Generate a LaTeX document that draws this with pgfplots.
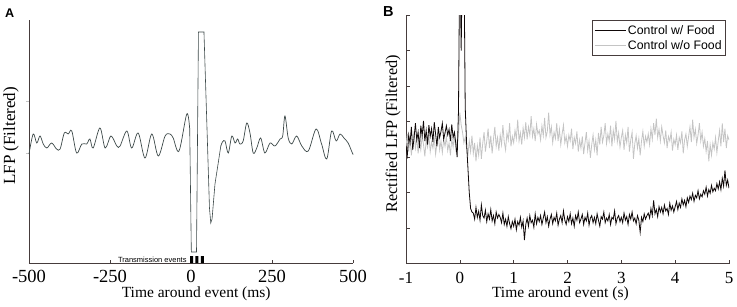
\documentclass[border=0pt]{standalone}
\usepackage{pgfplots}
\usepackage{pgfplotstable}
\pgfplotsset{compat=1.18}
\usepackage{fontspec}
\setmainfont{Liberation Serif}
\newfontfamily\arial{Liberation Sans}
\definecolor{axcol}{RGB}{70,60,60}
\definecolor{tracea}{RGB}{60,72,72}
\definecolor{lgray}{RGB}{196,196,196}
\definecolor{blk}{RGB}{15,8,8}

\pgfplotstableread{
t b g
-1.000 3.30 3.30
-0.975 3.05 3.65
-0.950 3.62 3.15
-0.925 3.40 3.50
-0.900 3.85 3.05
-0.875 3.20 3.40
-0.850 3.55 3.72
-0.825 3.95 3.25
-0.800 3.48 3.55
-0.775 3.70 3.10
-0.750 3.25 3.45
-0.725 3.88 3.20
-0.700 3.60 3.60
-0.675 4.02 3.35
-0.650 3.45 3.02
-0.625 3.75 3.48
-0.600 3.35 3.28
-0.575 3.90 3.62
-0.550 3.58 3.15
-0.525 3.80 3.42
-0.500 3.42 3.25
-0.475 3.98 3.55
-0.450 3.65 3.08
-0.425 3.30 3.38
-0.400 3.85 3.65
-0.375 3.55 3.20
-0.350 3.72 3.45
-0.325 3.95 3.12
-0.300 3.50 3.50
-0.275 3.68 3.30
-0.250 3.88 3.58
-0.225 3.62 3.18
-0.200 3.78 3.40
-0.175 3.45 3.05
-0.150 3.92 3.52
-0.125 3.55 3.28
-0.100 3.70 3.62
-0.075 3.38 3.22
-0.050 3.00 3.45
-0.025 4.30 3.60
0.000 9.00 4.25
0.025 6.00 3.90
0.050 9.00 3.70
0.075 9.00 3.40
0.100 4.40 3.55
0.125 3.40 3.25
0.150 2.70 3.05
0.175 2.00 3.45
0.200 1.55 3.15
0.225 1.45 3.60
0.250 1.42 3.10
0.275 1.25 3.40
0.300 1.58 2.88
0.325 1.30 3.32
0.350 1.47 3.05
0.375 1.22 3.55
0.400 1.65 2.95
0.425 1.35 3.38
0.450 1.28 3.70
0.475 1.50 3.15
0.500 1.18 3.45
0.525 1.40 3.80
0.550 1.25 3.25
0.575 1.52 3.60
0.600 1.20 3.10
0.625 1.35 3.50
0.650 1.12 3.85
0.675 1.45 3.30
0.700 1.28 3.55
0.725 1.38 3.18
0.750 1.30 3.62
0.775 1.15 3.35
0.800 1.42 3.90
0.825 1.10 3.42
0.850 1.25 3.20
0.875 1.05 3.68
0.900 1.32 3.48
0.925 1.12 3.95
0.950 0.98 3.30
0.975 1.18 3.58
1.000 1.05 3.40
1.025 1.25 3.75
1.050 0.95 3.52
1.075 1.18 4.05
1.100 1.08 3.45
1.125 1.30 3.68
1.150 1.02 3.35
1.175 1.20 3.82
1.200 0.66 3.55
1.225 1.10 3.98
1.250 1.28 3.50
1.275 1.05 3.85
1.300 1.35 3.62
1.325 1.15 4.15
1.350 1.22 3.58
1.375 1.02 3.80
1.400 1.40 3.45
1.425 1.12 3.92
1.450 1.30 3.65
1.475 1.18 3.75
1.500 1.35 3.48
1.525 1.10 3.88
1.550 1.28 3.60
1.575 1.45 4.10
1.600 1.15 3.55
1.625 1.32 3.72
1.650 1.05 4.25
1.675 1.25 3.62
1.700 1.38 3.85
1.725 1.12 3.40
1.750 1.30 3.70
1.775 1.20 3.52
1.800 1.42 3.95
1.825 1.08 3.45
1.850 1.25 3.78
1.875 1.35 3.35
1.900 1.15 3.65
1.925 1.48 3.90
1.950 1.22 3.40
1.975 1.10 3.58
2.000 1.32 3.30
2.025 1.18 3.62
2.050 1.40 3.45
2.075 1.12 3.80
2.100 1.28 3.22
2.125 1.05 3.55
2.150 1.35 3.38
2.175 1.22 3.72
2.200 1.45 3.15
2.225 1.15 3.48
2.250 1.25 3.25
2.275 1.38 3.58
2.300 1.10 3.08
2.325 1.30 3.40
2.350 1.20 3.70
2.375 1.42 3.18
2.400 1.08 3.45
2.425 1.28 2.98
2.450 1.35 3.35
2.475 1.15 3.62
2.500 1.30 3.20
2.525 1.12 3.48
2.550 1.40 3.05
2.575 1.22 3.68
2.600 1.05 3.35
2.625 1.32 3.85
2.650 1.25 3.42
2.675 1.45 3.60
2.700 1.15 3.95
2.725 1.28 3.38
2.750 1.20 3.65
2.775 1.38 3.45
2.800 1.10 3.88
2.825 1.30 3.30
2.850 1.25 3.75
2.875 1.48 3.50
2.900 1.12 4.02
2.925 1.28 3.42
2.950 1.35 3.68
2.975 1.18 3.28
3.000 1.30 3.55
3.025 1.15 3.75
3.050 1.42 3.20
3.075 1.22 3.62
3.100 1.32 3.40
3.125 1.10 3.85
3.150 1.38 3.15
3.175 1.25 3.48
3.200 1.45 3.70
3.225 1.20 2.95
3.250 1.28 3.38
3.275 1.12 3.60
3.300 1.35 3.25
3.325 1.22 3.52
3.350 0.88 3.05
3.375 1.30 3.45
3.400 1.18 3.72
3.425 1.40 3.30
3.450 1.25 3.58
3.475 1.35 3.42
3.500 1.42 3.65
3.525 1.28 3.35
3.550 1.55 3.80
3.575 1.35 3.50
3.600 1.78 3.95
3.625 1.40 3.62
3.650 1.52 4.08
3.675 1.32 3.55
3.700 1.60 3.78
3.725 1.45 3.45
3.750 1.58 3.85
3.775 1.40 3.60
3.800 1.65 3.40
3.825 1.48 3.75
3.850 1.55 3.25
3.875 1.38 3.58
3.900 1.70 3.45
3.925 1.50 3.70
3.950 1.62 3.18
3.975 1.45 3.50
4.000 1.60 3.35
4.025 1.75 3.62
4.050 1.52 3.20
4.075 1.70 3.55
4.100 1.58 3.40
4.125 1.82 3.72
4.150 1.65 3.10
4.175 1.78 3.48
4.200 1.60 3.65
4.225 1.85 3.30
4.250 1.72 3.58
4.275 1.90 3.85
4.300 1.80 3.42
4.325 1.98 4.05
4.350 1.75 3.55
4.375 1.92 3.78
4.400 1.85 3.38
4.425 2.05 3.62
4.450 1.82 3.95
4.475 1.95 3.45
4.500 1.88 3.70
4.525 2.05 3.30
4.550 1.95 3.52
4.575 2.15 3.15
4.600 1.90 3.45
4.625 2.08 2.88
4.650 1.98 3.35
4.675 2.20 3.05
4.700 2.02 3.40
4.725 2.12 3.22
4.750 2.05 3.55
4.775 2.25 3.12
4.800 2.10 3.45
4.825 2.30 3.75
4.850 2.08 3.30
4.875 2.40 3.95
4.900 2.18 3.42
4.925 2.62 3.80
4.950 2.20 3.25
4.975 2.35 3.60
5.000 2.12 3.48
}\dataB

\begin{document}
\begin{tikzpicture}[x=1pt,y=1pt]
\useasboundingbox (0,0) rectangle (737,306);
\node[anchor=base west, inner sep=0, font=\arial\bfseries\fontsize{12.6}{12.6}\selectfont] at (5,288.7) {A};
\node[anchor=base west, inner sep=0, font=\arial\bfseries\fontsize{14.5}{14.5}\selectfont] at (383,289.3) {B};

% ---------------- Panel A ----------------
\begin{axis}[
  at={(29pt,43pt)}, anchor=south west, scale only axis,
  width=324pt, height=243pt,
  xmin=-500, xmax=500, ymin=0, ymax=243,
  axis lines=left,
  axis line style={-, draw=axcol, line width=0.8pt},
  xtick={-500,-250,0,250,500},
  xticklabels={-500,-250,0,250,500},
  ytick={110,162}, yticklabels={},
  tick align=inside, major tick length=3pt,
  x tick style={axcol, line width=0.6pt},
  y tick style={lgray, line width=0.5pt, xshift=-3pt},
  x tick label style={font=\fontsize{18.5}{18.5}\selectfont, anchor=base, yshift=-19.5pt, inner sep=0.5pt},
  xlabel={Time around event (ms)},
  ylabel={LFP (Filtered)},
  xlabel style={font=\fontsize{15.5}{15.5}\selectfont, at={(axis description cs:0.516,-0.144)}, anchor=base, inner sep=0.5pt},
  ylabel style={font=\fontsize{17}{17}\selectfont, at={(axis description cs:-0.0556,0.523)}, anchor=center},
  clip=false,
]
\addplot[tracea, line width=0.7pt, smooth, tension=0.55] coordinates {
(-500,109) (-487,129) (-476,120) (-466,127) (-456,119) (-445,115) (-430,120)
(-415,114) (-404,114) (-391,130) (-379,129) (-368,132) (-353,110) (-337,119)
(-322,119) (-312,124) (-302,115) (-281,135) (-265,115) (-247,127) (-229,117)
(-219,117) (-198,132) (-183,115) (-163,130) (-142,105) (-121,129) (-101,107)
(-80,127) (-65,129) (-55,125) (-37,112) (-13,149) (-4,134)};
\addplot[tracea, line width=0.6pt] coordinates {
(-4,134) (1,11) (17,11) (23,231) (40,231) (50,128) (57,55) (61,40) (65,44)
(74,79) (84,100) (92,117)};
\addplot[tracea, line width=0.7pt, smooth, tension=0.55] coordinates {
(92,117) (97,121) (105,122) (115,110) (126,127) (136,120) (144,124) (151,119)
(161,122) (172,140) (182,130) (192,110) (203,115) (215,125) (228,110)
(244,120) (259,117) (275,124) (283,127) (290,147) (300,125) (311,119)
(326,127) (342,117) (362,112) (386,134) (403,119) (419,104) (434,132)
(448,122) (460,129) (472,125) (485,120) (498,110) (500,109)};
\addplot[ybar, bar width=3pt, fill=black, draw=none] coordinates {(2,7) (18,7) (35,7)};
\node[anchor=base east, inner sep=0, font=\arial\fontsize{7.5}{7.5}\selectfont] at (axis cs:-13,1) {Transmission events};
\end{axis}

% ---------------- Panel B ----------------
\begin{axis}[
  at={(406pt,42.5pt)}, anchor=south west, scale only axis,
  width=323pt, height=248.5pt,
  xmin=-1, xmax=5, ymin=0, ymax=7,
  axis lines=left,
  axis line style={-, draw=axcol, line width=0.8pt},
  xtick={-1,0,1,2,3,4,5},
  xticklabels={-1,0,1,2,3,4,5},
  ytick={1,2,3,4,5,6,7}, yticklabels={},
  tick align=inside, major tick length=3.5pt,
  tick style={axcol, line width=0.6pt},
  x tick label style={font=\fontsize{17}{17}\selectfont, anchor=base, yshift=-19.5pt, inner sep=0.5pt},
  xlabel={Time around event (s)},
  ylabel={Rectified LFP (Filtered)},
  xlabel style={font=\fontsize{15.5}{15.5}\selectfont, at={(axis description cs:0.478,-0.137)}, anchor=base, inner sep=0.5pt},
  ylabel style={font=\fontsize{16.3}{16.3}\selectfont, at={(axis description cs:-0.040,0.522)}, anchor=center},
  legend style={at={(0.9907,0.978)}, anchor=north east, draw=axcol, line width=0.7pt,
    font=\arial\fontsize{12.3}{12.3}\selectfont, inner xsep=2pt, inner ysep=2.5pt,
    row sep=0.5pt, cells={anchor=west}},
  legend image code/.code={\draw[#1, line width=0.8pt] (0pt,0pt) -- (31pt,0pt);},
]
\addplot[lgray, line width=0.8pt, forget plot] table[x=t, y=g] {\dataB};
\addplot[blk, line width=0.8pt] table[x=t, y=b] {\dataB};
\addlegendentry{Control w/ Food}
\addlegendimage{lgray}
\addlegendentry{Control w/o Food}
\end{axis}
\end{tikzpicture}
\end{document}
